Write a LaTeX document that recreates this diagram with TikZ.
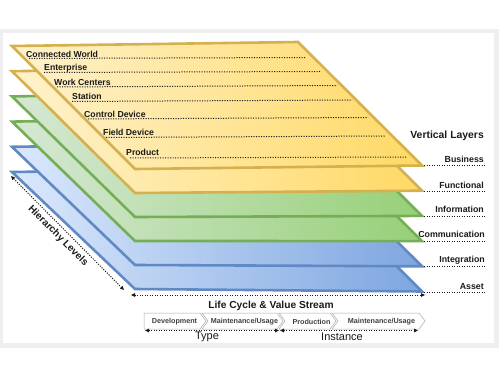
\documentclass[tikz,border=0pt]{standalone}
\usepackage{fontspec}
\setmainfont{Liberation Sans}
\usetikzlibrary{arrows.meta}
\definecolor{framegray}{HTML}{EFEFEF}
\definecolor{yst}{HTML}{D4B04E}
\definecolor{yea}{HTML}{FFF2CC}
\definecolor{yeb}{HTML}{FFD966}
\definecolor{gst}{HTML}{76AD57}
\definecolor{gra}{HTML}{D5E8D4}
\definecolor{grb}{HTML}{97D077}
\definecolor{bst}{HTML}{6189C4}
\definecolor{bla}{HTML}{DAE8FC}
\definecolor{blb}{HTML}{7EA6E0}
\definecolor{chev}{HTML}{A8A8A8}
\definecolor{txt}{HTML}{1A1A1A}
\tikzset{
  layer/.style={line width=2.6pt, line join=miter},
  dotln/.style={line width=1pt, dash pattern=on 1.1pt off 1.4pt, txt},
  toplbl/.style={anchor=west, inner sep=0pt, text=txt, font=\bfseries\fontsize{8.7}{10}\selectfont},
  laylbl/.style={anchor=base east, inner sep=0pt, text=txt, font=\bfseries\fontsize{8.8}{10}\selectfont},
  chevbox/.style={draw=chev, line width=0.5pt, fill=white},
  chevlbl/.style={inner sep=0pt, text=black!75, font=\bfseries\fontsize{7.2}{8}\selectfont},
  dblarrow/.style={dotln, {Triangle[length=4pt,width=3.5pt]}-{Triangle[length=4pt,width=3.5pt]}},
}
\begin{document}
\begin{tikzpicture}[x=1pt,y=-1pt]
\useasboundingbox (0,0) rectangle (500,379);
\fill[framegray] (0,29) rectangle (499,348);
\fill[white] (3,33) rectangle (494,343);
% layers, bottom first
\foreach \k/\fa/\fb/\st in {5/bla/blb/bst, 4/bla/blb/bst, 3/gra/grb/gst, 2/gra/grb/gst, 1/yea/yeb/yst, 0/yea/yeb/yst}{
  \pgfmathsetmacro\t{46+25.2*\k}
  \pgfmathsetmacro\b{169+24*\k}
  \pgfmathsetmacro\r{165.5+25.2*\k}
  \draw[layer, draw=\st, left color=\fa, right color=\fb] (12,\t) -- (298,\t-4) -- (422,\r) -- (135,\b) -- cycle;
}
% hierarchy labels in top layer
\node[toplbl] (cw) at (26,54) {Connected World};
\node[toplbl] (ent) at (44,68) {Enterprise};
\node[toplbl] (wc) at (54,82) {Work Centers};
\node[toplbl] (sta) at (72,96.5) {Station};
\node[toplbl] (cd) at (84,114) {Control Device};
\node[toplbl] (fd) at (103,132) {Field Device};
\node[toplbl] (pr) at (126,152) {Product};
\coordinate (cwa) at (29,58.5); \coordinate (cwb) at (306,57.5);
\coordinate (enta) at (44,72.5); \coordinate (entb) at (320,71.5);
\coordinate (wca) at (57,87); \coordinate (wcb) at (337,85.5);
\coordinate (staa) at (72,101.5); \coordinate (stab) at (352,100);
\coordinate (cda) at (88,119); \coordinate (cdb) at (368,117.5);
\coordinate (fda) at (106,137.5); \coordinate (fdb) at (385,136);
\coordinate (pra) at (130,158); \coordinate (prb) at (407,157);
\draw[dotln] (cwa) -- (cwb);
\draw[dotln] (enta) -- (entb);
\draw[dotln] (wca) -- (wcb);
\draw[dotln] (staa) -- (stab);
\draw[dotln] (cda) -- (cdb);
\draw[dotln] (fda) -- (fdb);
\draw[dotln] (pra) -- (prb);
% vertical layers labels
\node[anchor=base east, inner sep=0pt, text=txt, font=\bfseries\fontsize{10.4}{12}\selectfont] (vl) at (484,139) {Vertical Layers};
\node[laylbl] (bus) at (484,162.5) {Business};
\node[laylbl] (fun) at (484,188.5) {Functional};
\node[laylbl] (inf) at (484,213) {Information};
\node[laylbl] (com) at (485,237) {Communication};
\node[laylbl] (int) at (485,262) {Integration};
\node[laylbl] (ass) at (484,289) {Asset};
\coordinate (busa) at (424,166); \coordinate (busb) at (485,166);
\coordinate (funa) at (424,192); \coordinate (funb) at (485,192);
\coordinate (infa) at (424,217); \coordinate (infb) at (485,217);
\coordinate (coma) at (424,241); \coordinate (comb) at (485,241);
\coordinate (inta) at (424,266); \coordinate (intb) at (485,266);
\coordinate (assa) at (424,292); \coordinate (assb) at (485,292);
\draw[dotln] (busa) -- (busb);
\draw[dotln] (funa) -- (funb);
\draw[dotln] (infa) -- (infb);
\draw[dotln] (coma) -- (comb);
\draw[dotln] (inta) -- (intb);
\draw[dotln] (assa) -- (assb);
% hierarchy arrow
\coordinate (ha) at (11,176); \coordinate (hb) at (124,290);
\draw[dblarrow] (ha) -- (hb);
\node[inner sep=0pt, rotate=-45, text=txt, font=\bfseries\fontsize{10}{12}\selectfont] (hl) at (58,236) {Hierarchy Levels};
% life cycle arrow
\coordinate (la) at (131,295); \coordinate (lb) at (425,295);
\draw[dblarrow] (la) -- (lb);
\node[anchor=base, inner sep=0pt, text=txt, font=\bfseries\fontsize{10.2}{12}\selectfont] (lc) at (271,308) {Life Cycle \& Value Stream};
% chevrons
\draw[chevbox] (144,313) -- (200,313) -- (206,321) -- (200,329) -- (144,329) -- cycle;
\draw[chevbox] (202,313) -- (277,313) -- (283,321) -- (277,329) -- (202,329) -- (208,321) -- cycle;
\draw[chevbox] (279,313) -- (330,313) -- (336,321) -- (330,329) -- (279,329) -- (285,321) -- cycle;
\draw[chevbox] (332,313) -- (419,313) -- (425,321) -- (419,329) -- (332,329) -- (338,321) -- cycle;
\node[chevlbl] (dev) at (174.5,321.5) {Development};
\node[chevlbl] (mu1) at (244.5,321.5) {Maintenance/Usage};
\node[chevlbl] (prod) at (311.5,321.5) {Production};
\node[chevlbl] (mu2) at (381.5,321.5) {Maintenance/Usage};
% type / instance
\coordinate (ta) at (145,330.5); \coordinate (tb) at (279,330.5);
\coordinate (ia) at (280,330.5); \coordinate (ib) at (418,330.5);
\draw[dblarrow] (ta) -- (tb);
\draw[dblarrow] (ia) -- (ib);
\node[inner sep=0pt, text=txt, font=\fontsize{11}{12}\selectfont] (ty) at (207,337) {Type};
\node[inner sep=0pt, text=txt, font=\fontsize{11}{12}\selectfont] (ins) at (342,337) {Instance};
\end{tikzpicture}
\end{document}
